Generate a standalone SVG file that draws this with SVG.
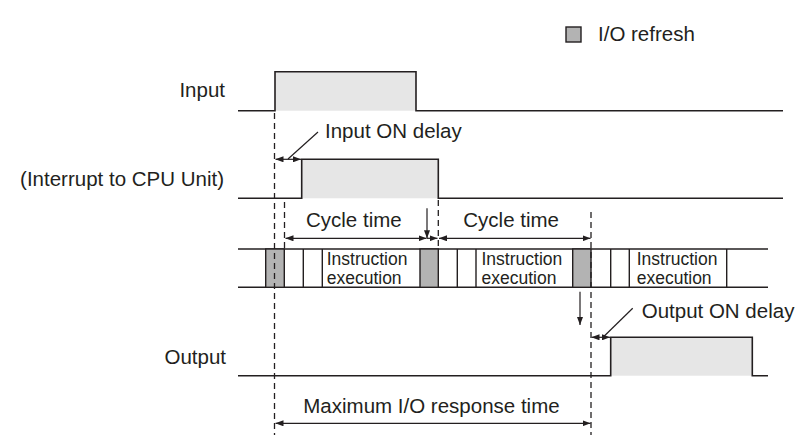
<svg xmlns="http://www.w3.org/2000/svg" width="804" height="435" viewBox="0 0 804 435">
<style>
text{font-family:"Liberation Sans",Arial,sans-serif;font-size:20.5px;fill:#231f20}
.s{font-size:17.5px}
.w{fill:none;stroke:#231f20;stroke-width:1.6}
.p{fill:#e6e6e6;stroke:none}
.g{fill:#b3b3b3;stroke:#231f20;stroke-width:1.4}
.b{stroke:#231f20;stroke-width:1.4;fill:none}
.d{stroke:#231f20;stroke-width:1.3;stroke-dasharray:6 4;fill:none}
.a{stroke:#231f20;stroke-width:1.2;fill:none}
</style>
<defs>
<marker id="ah" viewBox="0 0 8 6" refX="8" refY="3" markerWidth="8" markerHeight="6" markerUnits="userSpaceOnUse" orient="auto-start-reverse">
<path d="M0,0 L8,3 L0,6 z" fill="#231f20"/>
</marker>
</defs>
<rect width="804" height="435" fill="#fff"/>
<g id="legend">
<rect class="g" x="566" y="27" width="15" height="15"/>
<text x="598" y="41">I/O refresh</text>
</g>
<g id="input">
<rect class="p" x="275" y="71.7" width="141" height="39"/>
<polyline class="w" points="238,110.7 275,110.7 275,71.7 416,71.7 416,110.7 783,110.7"/>
<text x="225" y="97" text-anchor="end">Input</text>
</g>
<g id="interrupt">
<rect class="p" x="301.7" y="159.3" width="136.6" height="39"/>
<polyline class="w" points="238,198.3 301.7,198.3 301.7,159.3 438.3,159.3 438.3,198.3 783,198.3"/>
<text x="224" y="186" text-anchor="end">(Interrupt to CPU Unit)</text>
</g>
<g id="cycle">
<line class="b" x1="238" y1="249" x2="768" y2="249"/>
<line class="b" x1="238" y1="287.3" x2="768" y2="287.3"/>
<rect class="g" x="265.7" y="249" width="18.6" height="38.3"/>
<rect class="g" x="420" y="249" width="18.3" height="38.3"/>
<rect class="g" x="572.7" y="249" width="18.3" height="38.3"/>
<g class="b">
<line x1="303.3" y1="249" x2="303.3" y2="287.3"/>
<line x1="322.3" y1="249" x2="322.3" y2="287.3"/>
<line x1="457.3" y1="249" x2="457.3" y2="287.3"/>
<line x1="476" y1="249" x2="476" y2="287.3"/>
<line x1="610.7" y1="249" x2="610.7" y2="287.3"/>
<line x1="629.3" y1="249" x2="629.3" y2="287.3"/>
<line x1="726.7" y1="249" x2="726.7" y2="287.3"/>
</g>
<text class="s" x="326.7" y="264.5">Instruction</text>
<text class="s" x="326.7" y="284.3">execution</text>
<text class="s" x="481.5" y="264.5">Instruction</text>
<text class="s" x="481.5" y="284.3">execution</text>
<text class="s" x="636.7" y="264.5">Instruction</text>
<text class="s" x="636.7" y="284.3">execution</text>
</g>
<g id="output">
<rect class="p" x="610.7" y="337.3" width="141.6" height="38.4"/>
<polyline class="w" points="238,375.7 610.7,375.7 610.7,337.3 752.3,337.3 752.3,375.7 768,375.7"/>
<text x="226" y="364" text-anchor="end">Output</text>
</g>
<g id="connectors">
<line class="d" x1="274.5" y1="113" x2="274.5" y2="435"/>
<line class="d" x1="284.5" y1="202" x2="284.5" y2="249"/>
<line class="d" x1="438.3" y1="200" x2="438.3" y2="249"/>
<line class="d" x1="591" y1="212" x2="591" y2="435"/>
<line class="a" x1="275.5" y1="159.3" x2="301" y2="159.3" marker-start="url(#ah)" marker-end="url(#ah)"/>
<line class="a" x1="288" y1="159" x2="318" y2="132"/>
<line class="a" x1="285.5" y1="238.3" x2="426.5" y2="238.3" marker-start="url(#ah)" marker-end="url(#ah)"/>
<line class="a" x1="427" y1="208.3" x2="427" y2="238.3" marker-end="url(#ah)"/>
<line class="a" x1="427" y1="238.3" x2="437.5" y2="238.3" marker-end="url(#ah)"/>
<line class="a" x1="439" y1="238.3" x2="590.5" y2="238.3" marker-start="url(#ah)" marker-end="url(#ah)"/>
<line class="a" x1="580" y1="291.7" x2="580" y2="325" marker-end="url(#ah)"/>
<line class="a" x1="591.5" y1="337.3" x2="610" y2="337.3" marker-start="url(#ah)" marker-end="url(#ah)"/>
<line class="a" x1="603.3" y1="337" x2="632.7" y2="308.3"/>
<line class="a" x1="275.5" y1="423.3" x2="590.5" y2="423.3" marker-start="url(#ah)" marker-end="url(#ah)"/>
</g>
<g id="labels">
<text x="325" y="138.3">Input ON delay</text>
<text x="306" y="227">Cycle time</text>
<text x="463.3" y="227">Cycle time</text>
<text x="641.7" y="318">Output ON delay</text>
<text x="303.3" y="413">Maximum I/O response time</text>
</g>
</svg>
